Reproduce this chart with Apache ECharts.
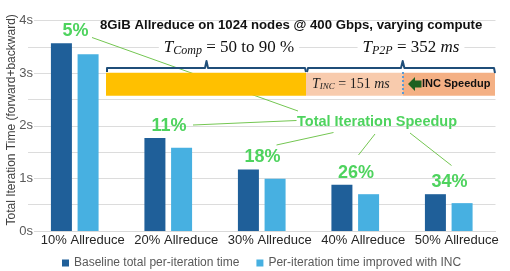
<!DOCTYPE html>
<html><head><meta charset="utf-8">
<script src="https://cdn.jsdelivr.net/npm/echarts@6/dist/echarts.min.js"></script>
<style>html,body{margin:0;padding:0;background:#fff}#c{width:510px;height:271px}</style>
</head><body><div id="c"></div>
<script>
const categories = ['10% Allreduce','20% Allreduce','30% Allreduce','40% Allreduce','50% Allreduce'];
const baseline = [3.57, 1.77, 1.17, 0.88, 0.70];
const improved = [3.36, 1.585, 0.995, 0.70, 0.53];
const speedups = ['5%','11%','18%','26%','34%'];
const yTicks = [0, 1, 2, 3, 4];
const seriesNames = ['Baseline total per-iteration time','Per-iteration time improved with INC'];

const chart = echarts.init(document.getElementById('c'), null, {renderer:'canvas'});
const green = '#4ED35E', lineGreen = '#74C652', braceBlue = '#1F4E79';
const mathFont = '"Liberation Serif", "DejaVu Serif", serif';
const sans = '"Liberation Sans", Arial, sans-serif';

function lineEl(x1,y1,x2,y2,z){return {type:'line',z:z||5,shape:{x1,y1,x2,y2},style:{stroke:lineGreen,lineWidth:1}};}

chart.setOption({
  animation:false,
  textStyle:{fontFamily:sans},
  title:{text:'8GiB Allreduce on 1024 nodes @ 400 Gbps, varying compute',left:95,top:14,
    textStyle:{fontSize:13.2,fontWeight:'bold',color:'#111',fontFamily:sans}},
  grid:{left:28,right:14.5,top:20.7,bottom:40,outerBoundsMode:'none',containLabel:false},
  legend:{left:57,top:252,itemWidth:7,itemHeight:7,icon:'rect',itemGap:17,
    textStyle:{fontSize:12,color:'#595959'},data:seriesNames},
  xAxis:{type:'category',data:categories,
    axisLine:{lineStyle:{color:'#d9d9d9',width:1}},axisTick:{show:false},
    axisLabel:{interval:0,fontSize:13,color:'#262626',margin:3,padding:[0,0,0,16]}},
  yAxis:{type:'value',min:0,max:4,interval:0.5,
    name:'Total Iteration Time (forward+backward)',nameLocation:'middle',nameGap:10,nameMoveOverlap:false,
    nameTextStyle:{fontSize:12,color:'#404040',padding:[0,0,0,12]},
    axisLine:{show:false},axisTick:{show:false},
    splitLine:{lineStyle:{color:'#dcdcdc',width:1}},
    axisLabel:{fontSize:13,color:'#595959',margin:-6,backgroundColor:'#fff',padding:[0,1,0,1],
      formatter:v=>yTicks.includes(v)?v+'s':''}},
  series:[
    {name:seriesNames[0],type:'bar',barWidth:21,barGap:'27%',
      itemStyle:{color:'#1F5F99'},
      data:baseline.map((v,i)=>({value:v,label:{formatter:speedups[i]}})),
      label:{show:true,position:'top',distance:3,offset:[14,0],fontSize:18,fontWeight:'bold',color:green,lineHeight:18}},
    {name:seriesNames[1],type:'bar',barWidth:21,barGap:'27%',
      itemStyle:{color:'#47B0E1'},data:improved}
  ],
  graphic:[
    lineEl(92,37.5,298,111),
    lineEl(193,125,296.5,120.5),
    lineEl(276.5,145,333.5,132.5),
    lineEl(358.5,155,375,134),
    lineEl(451.5,165.5,410,133),
    {type:'text',z:6,x:297,y:114,style:{text:'Total Iteration Speedup',font:'bold 14.5px '+sans,fill:green}},
    {type:'rect',z:10,shape:{x:106,y:72.7,width:200,height:23},style:{fill:'#FFC000'}},
    {type:'rect',z:10,shape:{x:306,y:72.7,width:97,height:23},style:{fill:'#F8CBAD'}},
    {type:'rect',z:10,shape:{x:403,y:72.7,width:92,height:23},style:{fill:'#F4B084'}},
    {type:'line',z:11,shape:{x1:403,y1:72,x2:403,y2:96},style:{stroke:'#5B9BD5',lineWidth:2,lineDash:[2,2]}},
    {type:'polyline',z:11,shape:{points:[[107,72],[107,68],[205,68],[206.5,61],[208,68],[305,68],[306,72]]},
      style:{stroke:braceBlue,lineWidth:2,fill:null,lineJoin:'round'}},
    {type:'polyline',z:11,shape:{points:[[307,72],[308,68],[401,68],[402.7,61],[404.4,68],[494,68],[495,73]]},
      style:{stroke:braceBlue,lineWidth:2,fill:null,lineJoin:'round'}},
    {type:'text',z:12,x:229,y:48,style:{align:'center',verticalAlign:'middle',backgroundColor:'#fff',padding:[2,5,2,5],
      text:'{t|T}{s|Comp}{r| = 50 to 90 %}',
      rich:{t:{font:'italic 17px '+mathFont,fill:'#111'},s:{font:'italic 12px '+mathFont,fill:'#111',padding:[6,0,0,0]},
            r:{font:'17px '+mathFont,fill:'#111'}}}},
    {type:'text',z:12,x:411,y:48,style:{align:'center',verticalAlign:'middle',backgroundColor:'#fff',padding:[2,5,2,5],
      text:'{t|T}{s|P2P}{r| = 352 }{m|ms}',
      rich:{t:{font:'italic 17px '+mathFont,fill:'#111'},s:{font:'italic 12px '+mathFont,fill:'#111',padding:[6,0,0,0]},
            r:{font:'17px '+mathFont,fill:'#111'},m:{font:'italic 17px '+mathFont,fill:'#111'}}}},
    {type:'text',z:12,x:312,y:84,style:{align:'left',verticalAlign:'middle',
      text:'{t|T}{s|INC}{r| = 151 }{m|ms}',
      rich:{t:{font:'italic 14px '+mathFont,fill:'#222'},s:{font:'italic 9px '+mathFont,fill:'#222',padding:[5,0,0,0]},
            r:{font:'14px '+mathFont,fill:'#222'},m:{font:'italic 14px '+mathFont,fill:'#222'}}}},
    {type:'polygon',z:12,shape:{points:[[408,84],[415,77],[415,80.5],[421.5,80.5],[421.5,87.5],[415,87.5],[415,91]]},
      style:{fill:'#1E6121'}},
    {type:'text',z:12,x:422,y:84,style:{align:'left',verticalAlign:'middle',text:'INC Speedup',font:'bold 11px '+sans,fill:'#111'}}
  ]
});
</script></body></html>
